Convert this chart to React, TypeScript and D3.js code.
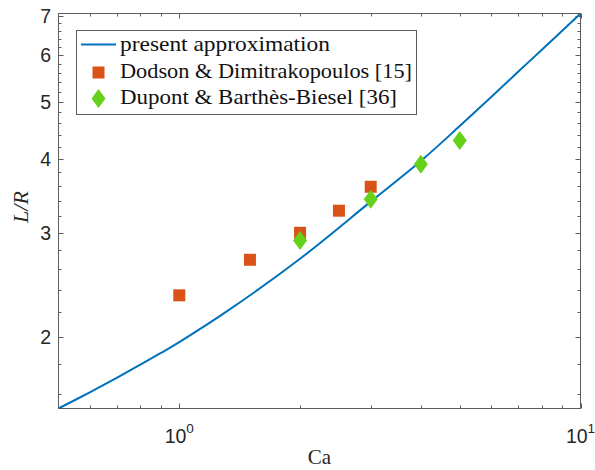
import React, { useEffect, useRef } from 'react';
import * as d3 from 'd3';

// curve (Ca, L/R)
const curveCa = [0.5, 0.6, 0.7, 0.8, 0.9, 1, 1.33, 2, 3, 4, 5, 6, 7, 8, 10];
const curveLR = [1.511, 1.611, 1.704, 1.793, 1.877, 1.958, 2.22, 2.711, 3.388, 3.97, 4.55, 5.1, 5.63, 6.12, 7.06];
const dodsonCa = [1, 1.5, 2, 2.5, 3];
const dodsonLR = [2.35, 2.7, 3.0, 3.27, 3.59];
const dupontCa = [2, 3, 4, 5];
const dupontLR = [2.91, 3.42, 3.92, 4.3];
const xMajor = [1, 10];
const xMinor = [0.6, 0.7, 0.8, 0.9, 2, 3, 4, 5, 6, 7, 8, 9];
const yMajor = [2, 3, 4, 5, 6, 7];
const legendLabels = ['present approximation', 'Dodson & Dimitrakopoulos [15]', 'Dupont & Barthès-Biesel [36]'];

const W = 595, H = 470;
const left = 58.5, right = 580.5, top = 13.5, bottom = 408.5;
const blue = '#0072BD', orange = '#D95319', green = '#66D11A';
const axisColor = '#5c5c5c';

const App = () => {
  const svgRef = useRef(null);

  useEffect(() => {
    const svg = d3.select(svgRef.current);
    svg.selectAll('*').remove();

    const x = d3.scaleLog().domain([0.5, 10]).range([left, right]);
    const y = d3.scaleLog().domain([1.511, 7.06]).range([bottom, top]);

    svg.append('defs').append('clipPath').attr('id', 'plotclip')
      .append('rect').attr('x', left).attr('y', top)
      .attr('width', right - left).attr('height', bottom - top);

    // frame
    svg.append('rect')
      .attr('x', left).attr('y', top)
      .attr('width', right - left).attr('height', bottom - top)
      .attr('fill', 'white').attr('stroke', axisColor).attr('stroke-width', 1);

    const yMinor = d3.range(1.6, 6.9, 0.2).map(v => +v.toFixed(1)).filter(v => !yMajor.includes(v));
    const ticks = svg.append('g').attr('stroke', axisColor).attr('stroke-width', 1);
    const xTick = (vals, len) => vals.forEach(v => {
      const px = Math.round(x(v)) + 0.5;
      ticks.append('line').attr('x1', px).attr('x2', px).attr('y1', bottom).attr('y2', bottom - len);
      ticks.append('line').attr('x1', px).attr('x2', px).attr('y1', top).attr('y2', top + len);
    });
    const yTick = (vals, len) => vals.forEach(v => {
      const py = Math.round(y(v)) + 0.5;
      ticks.append('line').attr('y1', py).attr('y2', py).attr('x1', left).attr('x2', left + len);
      ticks.append('line').attr('y1', py).attr('y2', py).attr('x1', right).attr('x2', right - len);
    });
    xTick(xMinor, 3);
    xTick(xMajor, 5);
    yTick(yMinor, 3);
    yTick(yMajor, 5);

    // tick labels
    const sans = 'Liberation Sans, Arial, Helvetica, sans-serif';
    svg.append('g').selectAll('text').data(yMajor).enter().append('text')
      .attr('x', 51).attr('y', d => y(d)).attr('dy', '0.36em')
      .attr('text-anchor', 'end').attr('font-family', sans).attr('font-size', 19.5)
      .attr('fill', '#262626').text(d => d);

    xMajor.forEach(v => {
      const t = svg.append('text').attr('x', x(v)).attr('y', 443)
        .attr('text-anchor', 'middle').attr('font-family', sans).attr('font-size', 19.5)
        .attr('fill', '#262626');
      t.append('tspan').text('10');
      t.append('tspan').attr('dy', -10).attr('font-size', 13.5).text(Math.round(Math.log10(v)));
    });

    // data
    const plot = svg.append('g').attr('clip-path', 'url(#plotclip)');
    const line = d3.line().x(d => x(d[0])).y(d => y(d[1])).curve(d3.curveCatmullRom.alpha(0.5));
    plot.append('path')
      .datum(curveCa.map((c, i) => [c, curveLR[i]]))
      .attr('d', line).attr('fill', 'none').attr('stroke', blue).attr('stroke-width', 2);

    const diamond = 'M0,-9.5L7,0L0,9.5L-7,0Z';
    svg.append('g').selectAll('rect').data(dodsonCa.map((c, i) => [c, dodsonLR[i]])).enter()
      .append('rect')
      .attr('x', d => x(d[0]) - 6).attr('y', d => y(d[1]) - 6)
      .attr('width', 12).attr('height', 12).attr('fill', orange);
    svg.append('g').selectAll('path').data(dupontCa.map((c, i) => [c, dupontLR[i]])).enter()
      .append('path')
      .attr('transform', d => `translate(${x(d[0])},${y(d[1])})`)
      .attr('d', diamond).attr('fill', green);

    // axis titles
    const serif = 'Liberation Serif, Times New Roman, serif';
    svg.append('text').attr('x', (left + right) / 2).attr('y', 464)
      .attr('text-anchor', 'middle').attr('font-family', serif).attr('font-size', 21)
      .attr('fill', '#262626').text('Ca');
    svg.append('text').attr('transform', 'translate(28,207) rotate(-90)')
      .attr('text-anchor', 'middle').attr('font-family', serif).attr('font-size', 22)
      .attr('font-style', 'italic').attr('fill', '#262626').text('L/R');

    // legend
    const lg = svg.append('g');
    lg.append('rect').attr('x', 76.5).attr('y', 30.5).attr('width', 340).attr('height', 84)
      .attr('fill', 'white').attr('stroke', axisColor).attr('stroke-width', 1);
    lg.append('line').attr('x1', 81).attr('x2', 116).attr('y1', 44.5).attr('y2', 44.5)
      .attr('stroke', blue).attr('stroke-width', 2);
    lg.append('rect').attr('x', 92.5).attr('y', 66.5).attr('width', 12).attr('height', 12).attr('fill', orange);
    lg.append('path').attr('transform', 'translate(98.5,98.5)').attr('d', diamond).attr('fill', green);
    const widths = [210, 292, 277];
    const baselines = [50.5, 77.5, 104];
    legendLabels.forEach((s, i) => {
      lg.append('text').attr('x', 120).attr('y', baselines[i])
        .attr('font-family', serif).attr('font-size', 21).attr('fill', '#111')
        .attr('textLength', widths[i]).attr('lengthAdjust', 'spacingAndGlyphs').text(s);
    });
  }, []);

  return (
    <svg ref={svgRef} width={W} height={H}
      style={{ position: 'absolute', left: 0, top: 0, background: 'white' }} />
  );
};

export default App;
